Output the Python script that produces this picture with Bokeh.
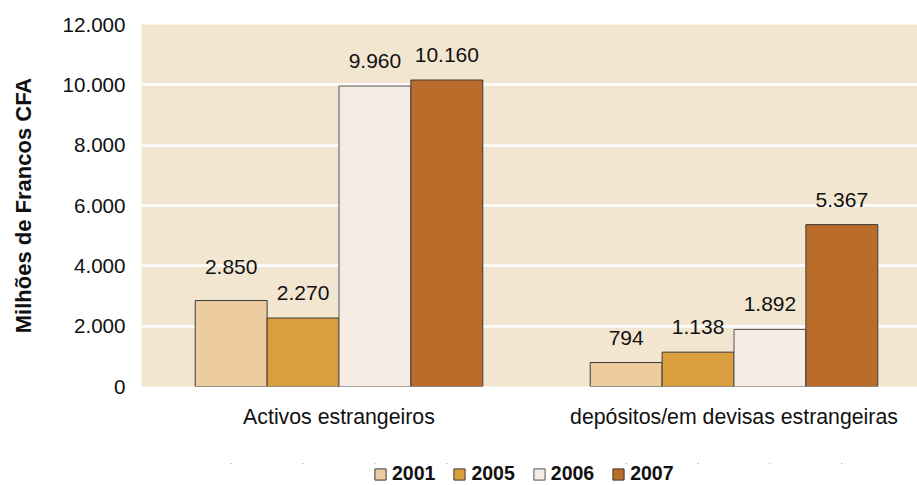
from bokeh.plotting import figure
from bokeh.models import ColumnDataSource, Legend, LegendItem, FixedTicker, Range1d
from bokeh.layouts import column
from bokeh.core.properties import value
from bokeh.embed import file_html
from bokeh.resources import INLINE

categories = ["Activos estrangeiros", "depósitos/em devisas estrangeiras"]
years = ["2001", "2005", "2006", "2007"]
values_2001 = [2850, 794]
values_2005 = [2270, 1138]
values_2006 = [9960, 1892]
values_2007 = [10160, 5367]
y_ticks = [0, 2000, 4000, 6000, 8000, 10000, 12000]

series = [values_2001, values_2005, values_2006, values_2007]
colors = ["#EDCCA0", "#DB9E3E", "#F5ECE6", "#BA6C2A"]
outlines = ["#3a3a3a", "#3a3a3a", "#555555", "#3a3a3a"]
label_dy = [[-34, -25], [-25, -25], [-25, -25], [-25, -25]]

FONT = "Liberation Sans"
W, H1, H2 = 917, 463, 22
LEFT, TOP, FRAME_BOTTOM = 141, 24, 386
bar_w = 0.182
cat_px = 395

def fmt(v):
    return f"{v:,}".replace(",", ".")

frame_w = W - LEFT
p = figure(width=W, height=H1, output_backend="svg", toolbar_location=None,
           x_range=Range1d(-0.5, -0.5 + frame_w / cat_px), y_range=Range1d(0, 12000),
           min_border_left=LEFT, min_border_right=0, min_border_top=TOP,
           min_border_bottom=H1 - FRAME_BOTTOM)
p.background_fill_color = "#F3E6D1"
p.border_fill_color = "white"
p.outline_line_color = None

# legend strip: degenerate (zero-size) copies of the bars, far outside the view,
# only provide the swatch styles for the legend
lg = figure(width=W, height=H2, output_backend="svg", toolbar_location=None,
            x_range=Range1d(-0.5, -0.5 + frame_w / cat_px), y_range=Range1d(-200000, -100000),
            min_border_left=0, min_border_right=0, min_border_top=0, min_border_bottom=0)
lg.axis.visible = False
lg.grid.visible = False
lg.outline_line_color = None
lg.background_fill_alpha = 0
items = []

for i, (yr, vals) in enumerate(zip(years, series)):
    off = (i - 1.5) * bar_w
    src = ColumnDataSource(dict(
        x=[j + off for j in range(len(categories))],
        top=vals,
        lbl=[fmt(v) for v in vals],
        dy=label_dy[i],
    ))
    p.vbar(x="x", top="top", width=bar_w, source=src, fill_color=colors[i],
           line_color=outlines[i], line_width=1)
    p.text(x="x", y="top", text="lbl", y_offset="dy", source=src,
           text_align="center", text_baseline="middle",
           text_font=value(FONT), text_font_size="21px", text_color="#111111")
    r = lg.vbar(x="x", top="top", bottom="top", width=0, source=src,
                fill_color=colors[i], line_color=outlines[i], line_width=1)
    items.append(LegendItem(label=yr, renderers=[r]))

# axes
p.xaxis.ticker = FixedTicker(ticks=list(range(len(categories))))
p.xaxis.major_label_overrides = {i: c for i, c in enumerate(categories)}
p.xaxis.axis_line_color = None
p.xaxis.major_tick_line_color = None
p.xaxis.minor_tick_line_color = None
p.xaxis.major_tick_out = 0
p.xaxis.major_tick_in = 0
p.xaxis.minor_tick_out = 0
p.xaxis.major_label_standoff = 18
p.xaxis.major_label_text_font = FONT
p.xaxis.major_label_text_font_size = "21.3px"
p.xaxis.major_label_text_color = "#111111"

p.yaxis.ticker = FixedTicker(ticks=y_ticks)
p.yaxis.major_label_overrides = {t: fmt(t) for t in y_ticks}
p.yaxis.axis_line_color = None
p.yaxis.major_tick_line_color = None
p.yaxis.minor_tick_line_color = None
p.yaxis.major_tick_out = 0
p.yaxis.major_tick_in = 0
p.yaxis.minor_tick_out = 0
p.yaxis.major_label_standoff = 16
p.yaxis.major_label_text_font = FONT
p.yaxis.major_label_text_font_size = "20.6px"
p.yaxis.major_label_text_color = "#111111"
p.yaxis.axis_label = "Milhões de Francos CFA"
p.yaxis.axis_label_text_font = FONT
p.yaxis.axis_label_text_font_size = "22px"
p.yaxis.axis_label_text_font_style = "bold"
p.yaxis.axis_label_text_color = "#111111"
p.yaxis.axis_label_standoff = 24

p.xgrid.grid_line_color = None
p.ygrid.grid_line_color = "white"
p.ygrid.grid_line_width = 2.5

legend = Legend(items=items, orientation="horizontal", location=(373 - LEFT, 0),
                label_text_font=FONT, label_text_font_size="19.5px",
                label_text_font_style="bold", label_text_color="#111111",
                glyph_width=14, glyph_height=14, label_standoff=5, spacing=17,
                padding=0, margin=0, border_line_color=None,
                background_fill_alpha=0)
lg.add_layout(legend, "center")

layout = column(p, lg, spacing=0)
open("out.html", "w").write(file_html(layout, INLINE))
